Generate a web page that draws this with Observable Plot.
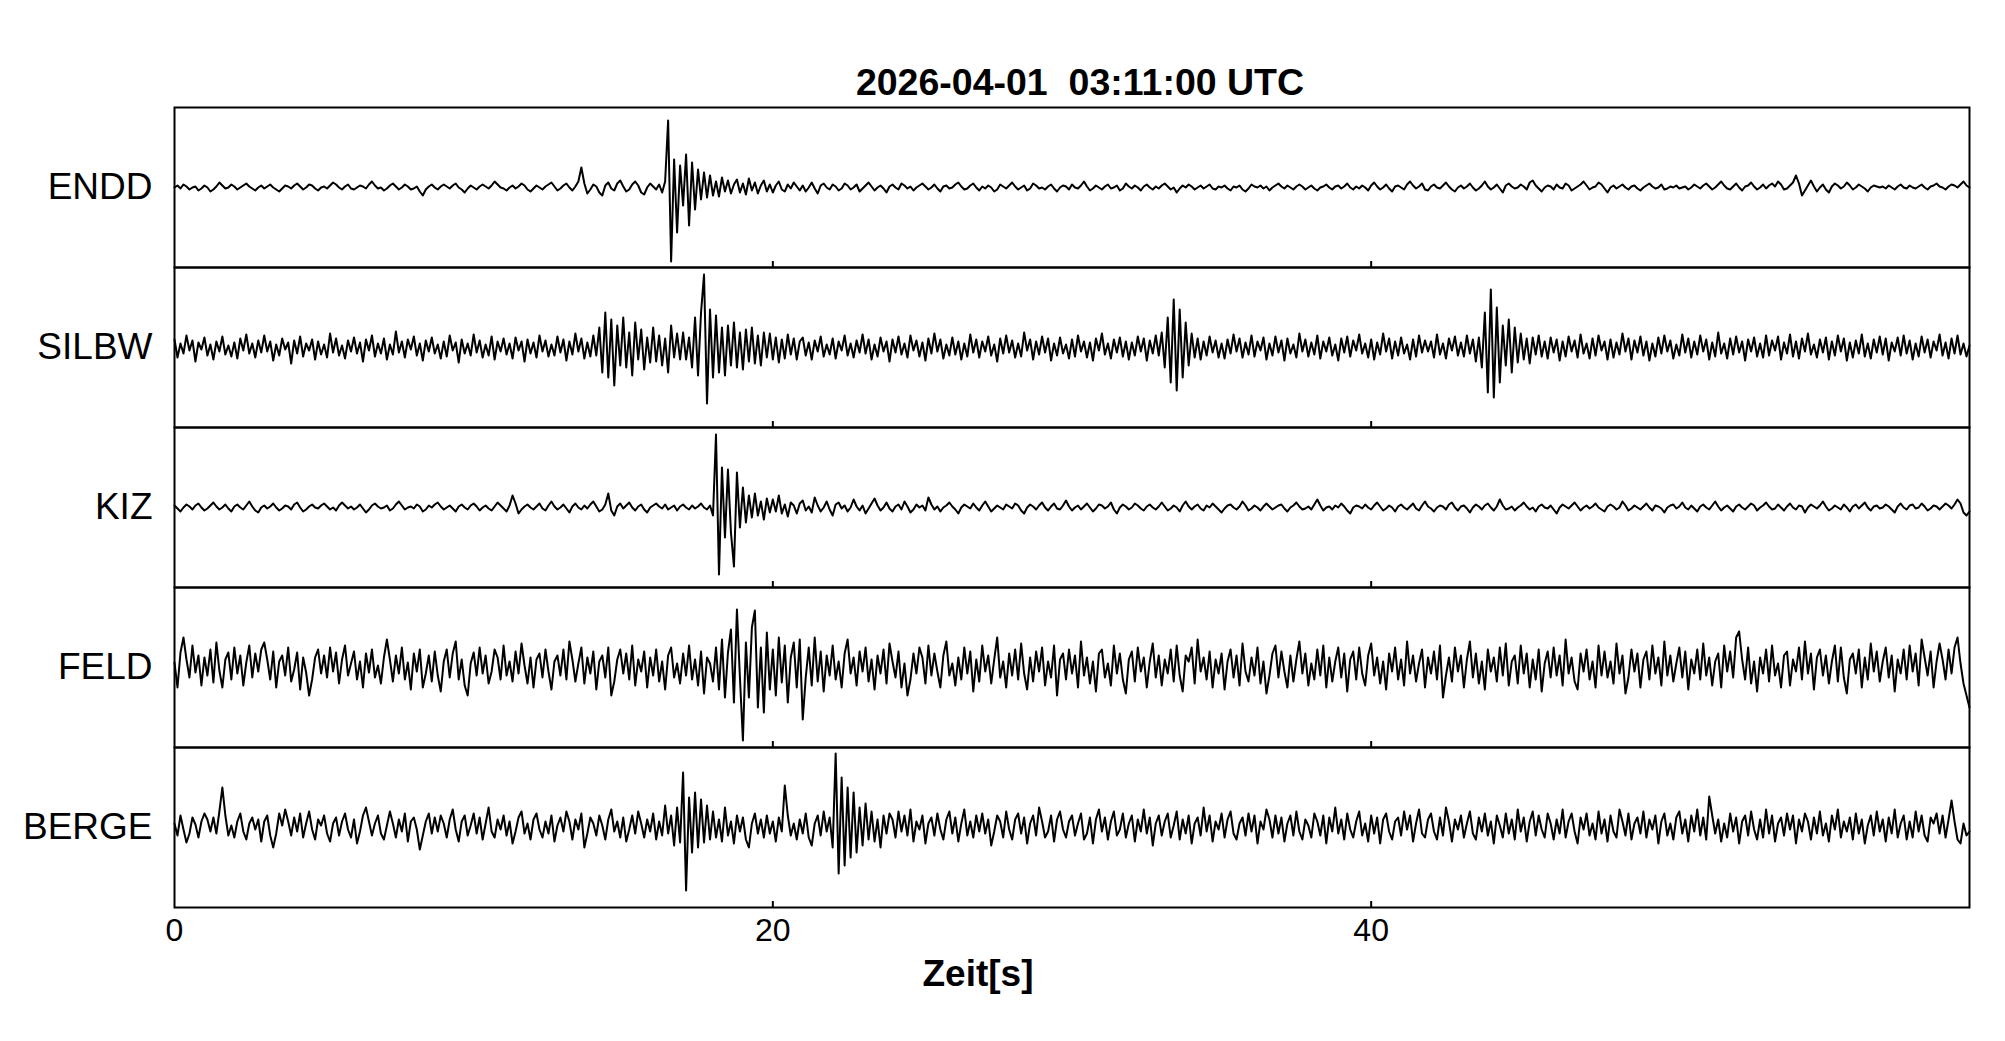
<!DOCTYPE html>
<html>
<head>
<meta charset="utf-8">
<script src="https://cdn.jsdelivr.net/npm/d3@7"></script>
<script src="https://cdn.jsdelivr.net/npm/@observablehq/plot@0.6"></script>
<style>
  html, body { margin: 0; padding: 0; background: #fff; }
  #wrap { position: relative; width: 2005px; height: 1041px; overflow: hidden; font-family: "Liberation Sans", Arial, Helvetica, sans-serif; }
  #title { position: absolute; left: 1080px; top: 64px; transform: translateX(-50%); font-size: 37.5px; line-height: 37.5px; font-weight: bold; white-space: pre; color: #000; }
  #xlabel { position: absolute; left: 978px; top: 955px; transform: translateX(-50%); font-size: 37px; line-height: 37px; font-weight: bold; white-space: pre; color: #000; }
  #chart { position: absolute; left: 0; top: 0; }
</style>
</head>
<body>
<div id="wrap">
  <div id="chart"></div>
  <div id="title"></div>
  <div id="xlabel"></div>
</div>
<script>
// ---- chart text ----
const titleText = "2026-04-01  03:11:00 UTC";
const xLabel = "Zeit[s]";
const stations = ["ENDD", "SILBW", "KIZ", "FELD", "BERGE"];
const xTicks = [0, 20, 40];
const innerTicks = [20, 40];
const sampleInterval = 0.1; // seconds between samples
const timeDomain = [0, 60];

// ---- traces (amplitude, sampled every 0.1 s, one row per second) ----
const endd = [
  0,2,-1,3,1,-2,0,1,-3,-1,
  2,0,-4,-2,1,5,2,-1,0,3,
  1,-2,0,2,4,1,-1,-3,0,2,
  -1,1,3,0,-2,-4,-1,2,1,-1,
  2,4,1,-2,0,3,2,-1,-3,0,
  1,-1,2,5,3,0,-2,1,3,-1,
  -2,0,2,1,-1,3,6,2,-1,0,
  -3,-1,2,4,1,-2,0,3,1,-2,
  -1,1,-4,-8,-2,1,3,0,-2,1,
  3,1,-1,2,4,0,-2,-5,-1,2,
  0,-2,1,3,1,-1,2,6,3,0,
  -1,-3,0,2,-1,1,4,2,-2,-4,
  -1,2,0,-2,1,3,5,1,-3,-1,
  2,4,0,-3,1,6,20,4,-6,-2,
  3,1,-5,-8,2,5,-1,-3,4,7,
  1,-4,-2,3,6,2,-5,-7,0,4,
  1,-2,3,-5,6,67,-74,28,-45,22,
  -18,33,-38,25,-22,18,-12,15,-10,12,
  -8,6,-9,10,-4,7,-6,3,8,-5,
  4,-7,9,-3,5,-6,2,7,-4,3,
  -5,2,6,-2,-4,3,-1,5,1,-3,
  2,-4,0,5,-1,-6,2,4,0,-2,
  3,1,-3,-1,4,2,-2,0,3,-4,
  -1,2,5,1,-3,0,2,-1,-5,1,
  3,0,-2,4,2,-1,1,-3,0,2,
  4,1,-2,0,3,-1,-4,1,2,-1,
  0,3,5,1,-2,-1,2,4,0,-3,
  1,-1,2,0,-4,-2,3,1,-1,2,
  5,1,-2,0,2,-3,-1,4,2,-1,
  0,-2,1,3,-1,-4,0,2,1,-2,
  3,0,-1,2,6,1,-3,-1,2,0,
  -2,1,3,-1,0,2,-3,-1,4,1,
  -1,2,0,-3,1,3,0,-2,1,-1,
  2,4,1,-2,0,-5,-1,2,0,3,
  1,-2,0,2,-1,1,3,-1,-2,1,
  0,2,-1,-3,1,0,2,-2,-4,-1,
  3,1,0,2,-1,1,-3,0,2,4,
  1,-1,2,0,-2,1,3,1,-2,0,
  2,-1,-3,0,1,3,0,-2,1,2,
  -1,1,4,0,-2,1,-1,2,0,-3,
  2,5,1,-2,0,3,-1,-4,1,2,
  0,-2,3,6,2,-1,1,4,-2,-3,
  1,3,0,-1,2,5,1,-2,-4,0,
  2,-1,1,4,0,-3,-1,2,6,1,
  -2,0,3,-1,-5,2,4,1,-1,0,
  3,1,-2,5,7,2,-1,-4,0,2,
  1,-2,3,0,-1,4,2,-3,-1,1,
  3,6,2,-2,0,1,5,3,-1,-5,
  0,2,-1,1,3,0,-2,1,2,-1,
  -3,0,2,4,1,-1,0,3,-2,-1,
  1,0,2,-1,0,1,-2,0,3,1,
  -1,2,4,1,-2,0,3,6,2,-1,
  -2,1,4,0,-3,1,2,5,1,-2,
  0,3,-1,2,4,1,6,3,-2,-1,
  2,5,12,4,-8,-3,2,7,1,-4,
  0,3,-2,-5,1,4,2,-1,1,5,
  2,-2,0,3,1,-1,-4,0,2,1,
  0,1,-1,2,0,-2,1,3,0,-1,
  2,0,-1,1,3,0,-2,1,2,4,
  1,0,-2,1,3,2,0,3,6,2,
  0
];

const silbw = [
  8,-10,4,-6,12,-3,7,-14,5,-2,
  10,-8,3,-12,6,-4,11,-7,2,-9,
  5,-11,9,-3,13,-6,4,-10,7,-5,
  12,-4,6,-13,3,-8,9,-2,5,-16,
  7,-6,11,-9,4,-3,8,-12,6,-7,
  3,-10,14,-5,9,-8,2,-11,7,-4,
  10,-6,5,-14,8,-3,12,-9,4,-6,
  9,-12,3,-7,16,-5,6,-10,8,-2,
  11,-8,4,-13,7,-4,10,-6,3,-11,
  6,-9,12,-3,5,-15,8,-6,4,-8,
  13,-5,7,-10,3,-8,11,-12,6,-4,
  9,-7,4,-11,10,-3,6,-14,8,-6,
  5,-10,12,-4,7,-9,3,-8,11,-5,
  8,-13,6,-7,14,-4,9,-11,5,-9,
  12,-8,20,-25,35,-30,28,-38,22,-18,
  30,-20,15,-28,25,-12,18,-22,10,-15,
  20,-14,12,-18,9,-25,22,-10,14,-12,
  15,-12,10,-20,30,-28,35,73,-56,38,
  -30,32,-25,20,-28,22,-18,25,-20,15,
  -22,18,-14,20,-16,12,-18,15,-10,14,
  -12,10,-15,8,-11,13,-7,9,-12,6,
  10,-8,5,-12,7,-4,11,-9,3,-7,
  9,-11,6,-3,12,-8,4,-10,7,-5,
  13,-6,8,-12,3,-9,10,-4,6,-14,
  8,-5,11,-7,4,-10,12,-3,7,-9,
  5,-13,9,-6,14,-4,8,-11,3,-8,
  10,-7,6,-12,4,-9,13,-5,8,-10,
  6,-4,11,-8,3,-14,9,-6,12,-5,
  7,-10,4,-9,15,-3,8,-12,6,-7,
  11,-5,9,-13,4,-8,10,-6,3,-11,
  8,-9,12,-4,6,-10,5,-13,9,-3,
  14,-7,4,-11,8,-5,10,-9,6,-12,
  5,-8,11,-4,9,-13,7,-6,12,-8,
  15,-20,30,-35,48,-43,38,-30,25,-18,
  14,-10,9,-12,6,-8,11,-5,7,-10,
  4,-11,8,-6,13,-4,9,-10,5,-7,
  12,-9,6,-3,10,-12,4,-8,11,-5,
  7,-13,9,-6,3,-10,14,-4,8,-9,
  5,-7,12,-11,6,-4,10,-8,3,-13,
  9,-5,11,-9,7,-3,13,-6,4,-10,
  8,-12,5,-7,14,-4,9,-11,6,-8,
  10,-6,3,-12,8,-9,12,-5,7,-4,
  6,-10,13,-7,4,-11,9,-3,11,-8,
  5,-9,12,-6,8,-14,10,-20,35,-45,
  58,-50,40,-35,22,-18,28,-25,20,-15,
  14,-12,9,-16,10,-7,12,-9,6,-11,
  10,-5,8,-13,6,-9,11,-4,7,-10,
  13,-6,4,-11,9,-8,12,-3,6,-12,
  8,-10,5,-7,14,-4,9,-12,7,-5,
  11,-8,6,-13,4,-9,10,-6,12,-4,
  7,-11,3,-8,13,-5,9,-10,6,-7,
  12,-4,8,-12,5,-9,15,-6,4,-11,
  9,-7,11,-5,6,-13,8,-4,10,-9,
  4,-10,12,-8,7,-3,11,-12,5,-6,
  13,-9,6,-11,9,-4,14,-7,3,-10,
  8,-5,10,-12,6,-8,12,-4,9,-13,
  5,-10,7,-6,13,-9,4,-11,8,-5,
  11,-7,9,-13,5,-4,10,-8,12,-6,
  7,-12,4,-9,11,-5,8,-10,6,-3,
  13,-8,5,-11,9,-6,12,-7,4,-9,
  2
];

const kiz = [
  2,-1,-4,0,3,1,-2,2,4,0,
  -3,-1,2,5,1,-2,0,3,-1,-4,
  1,3,0,-2,2,6,1,-3,-5,0,
  2,-1,1,4,0,-3,-1,2,1,-2,
  3,5,0,-4,-2,1,3,0,-1,2,
  4,1,-2,0,-3,2,5,2,-1,1,
  -2,0,3,-1,-5,-2,2,4,1,-1,
  0,2,-3,-1,3,6,2,-2,0,1,
  -1,3,1,-4,-2,2,0,3,5,1,
  -2,0,2,-1,-4,1,3,0,-2,2,
  4,1,-3,0,2,-1,-3,1,5,2,
  -1,-4,2,12,4,-6,-2,1,3,0,
  -2,1,4,-1,-3,2,6,1,-2,0,
  3,-1,-5,1,4,0,-2,2,-1,3,
  6,1,-4,-2,3,14,-3,-8,1,4,
  -1,2,5,0,-3,1,3,-2,-5,0,
  2,4,1,-1,3,-2,0,2,-3,1,
  3,0,-2,2,-1,1,4,0,-2,2,
  -8,73,-67,40,-30,38,-25,-59,35,-20,
  20,-15,12,-10,14,-8,6,-12,9,-5,
  8,-4,12,-6,3,-9,5,2,-6,4,
  7,-3,1,-5,10,2,-4,0,6,-2,
  -8,3,5,-1,2,-4,0,8,1,-3,
  2,-6,-1,4,9,2,-3,0,5,-1,
  -4,1,3,-2,6,1,-5,-2,3,0,
  2,-3,10,3,-2,1,-4,0,2,5,
  1,-2,-6,0,3,1,-1,4,0,-3,
  2,6,1,-4,-1,2,0,-2,3,1,
  -1,4,2,-3,-6,0,3,1,-2,2,
  5,0,-3,1,4,-1,-2,2,7,1,
  -3,0,2,-2,1,4,0,-4,-1,3,
  2,-1,1,5,-2,-6,0,3,1,-2,
  0,4,2,-1,-3,1,3,0,-2,1,
  5,1,-3,-1,2,0,-4,2,6,1,
  -2,1,3,-1,-3,2,0,4,1,-2,
  -5,-1,2,3,0,-2,1,6,2,-3,
  -1,2,0,-3,1,4,1,-2,0,2,
  3,-1,-4,0,2,5,1,-2,-1,1,
  -2,3,8,2,-3,0,1,-2,2,0,
  4,1,-3,-6,0,2,1,-1,3,0,
  -2,2,5,1,-3,-1,2,0,-4,1,
  3,0,-2,1,4,-1,-3,2,6,1,
  -1,-4,0,2,1,-2,3,5,0,-3,
  1,2,-1,-5,0,3,1,-2,2,4,
  0,-3,1,8,2,-2,-1,1,-3,0,
  2,5,1,-2,0,-4,1,3,0,-1,
  2,-2,-6,0,3,1,-1,2,5,1,
  -3,0,2,-1,1,4,0,-2,-4,1,
  3,1,-2,0,6,2,-3,-1,2,0,
  -2,1,4,0,-3,2,1,-1,-5,0,
  2,3,-1,1,5,0,-2,2,-1,-4,
  1,3,0,-2,2,6,1,-3,0,2,
  -1,-4,1,3,0,-2,1,4,2,-3,
  0,2,5,1,-2,-1,3,0,-3,1,
  4,0,-2,2,1,-5,0,3,1,-1,
  2,6,1,-3,-1,2,0,-2,3,0,
  -4,1,3,-1,2,5,0,-3,1,2,
  -1,0,3,1,-2,-5,1,4,0,-2,
  2,3,-1,0,4,1,-3,-1,2,1,
  -2,1,4,2,-1,3,8,4,-5,-8,
  -4
];

const feld = [
  5,-20,15,30,8,-10,22,-5,12,-18,
  10,-8,18,-15,25,-3,-20,8,15,-12,
  20,-6,12,-18,5,22,-10,14,-4,18,
  25,8,-12,16,-20,6,12,-8,20,-14,
  -2,15,-22,10,-5,-28,-12,10,18,-6,
  12,-10,20,-4,15,-16,8,22,-8,4,
  16,-12,6,-20,14,-5,18,-10,2,-16,
  10,28,8,-14,12,-6,20,-12,5,-22,
  14,-4,18,-20,-6,12,-14,16,-8,-24,
  6,18,-10,14,26,-12,8,-18,-28,4,
  15,-8,20,-6,12,-16,-4,18,10,-12,
  22,-8,6,-14,16,-6,24,2,-16,10,
  -20,8,14,-10,18,-4,-22,6,12,-8,
  18,-12,26,8,-14,4,20,-16,10,-6,
  16,-22,6,12,-10,20,-28,-14,8,18,
  -6,14,-12,22,-18,8,-4,16,-20,10,
  -8,18,-14,6,-22,12,20,-10,4,-16,
  14,-8,22,-12,8,-18,16,-26,10,4,
  -14,20,-22,28,-30,15,38,-35,58,-10,
  -73,25,-30,40,57,-40,20,-45,35,-22,
  18,-28,30,-15,22,-35,10,25,-20,28,
  -52,-10,20,-18,30,-14,16,-24,12,-8,
  22,-12,6,-20,14,28,-6,10,-18,16,
  -4,20,-14,8,-22,12,-6,18,-16,24,
  6,-10,16,-20,4,-28,-12,14,-6,20,
  10,-16,22,-8,14,-4,-20,12,26,-8,
  4,-18,10,-12,20,-6,16,-24,8,-14,
  22,-4,12,-16,8,30,-10,6,-20,14,
  -8,18,-12,24,-6,-22,10,-14,16,-4,
  20,-18,6,-10,22,-28,8,14,-12,18,
  -6,12,-20,26,-8,10,-16,6,-24,14,
  18,-10,4,-18,22,-6,14,-12,-26,8,
  16,-14,20,-4,10,-20,6,24,-10,12,
  -18,8,-6,18,-14,22,-8,-24,12,6,
  20,-16,28,-4,10,-12,16,-20,8,-6,
  14,-22,6,18,-10,12,-18,24,-4,-14,
  10,-8,20,-16,6,-26,-8,14,22,-10,
  16,-4,-20,12,-14,8,26,-6,14,-18,
  4,-12,18,-8,22,-20,10,-14,6,20,
  -10,14,-24,8,16,-12,20,-6,-18,12,
  24,-8,10,-16,6,-22,14,-4,20,-12,
  8,-18,26,-6,12,-14,4,18,-20,10,
  -6,16,-12,22,-30,-8,10,-14,20,-4,
  12,-20,8,26,-10,14,-16,6,-22,18,
  -4,10,-14,20,-8,24,-18,6,12,-16,
  22,-6,14,-20,8,-12,18,-24,4,16,
  -10,20,-8,12,-18,28,-6,10,-14,-22,
  14,-4,18,-12,6,-20,22,-8,16,-10,
  6,-16,24,-6,12,-26,-10,18,-4,14,
  -20,8,16,-12,22,-6,10,-18,26,-8,
  12,-14,4,20,-10,16,-22,8,-6,18,
  -12,24,-8,10,-18,6,14,-20,22,-4,
  16,-10,30,36,8,-12,20,-16,6,-24,
  10,-6,18,-14,22,-8,4,-20,12,16,
  -18,8,-4,20,-12,26,-6,14,-22,10,
  18,-8,12,-16,6,22,-14,20,-10,-26,
  8,14,-6,18,-20,10,-12,24,-4,16,
  -14,6,20,-10,12,-24,8,-6,18,-12,
  22,-4,14,-18,28,10,-8,16,-20,6,
  24,8,-12,18,-6,20,30,4,-16,-28,
  -40
];

const berge = [
  4,-8,12,-2,-15,-6,10,3,-10,6,
  14,8,-4,10,-6,16,40,12,-8,2,
  -10,6,14,-4,-12,4,10,-2,8,-14,
  6,12,-8,-20,-6,14,2,18,6,-8,
  10,-4,14,-10,4,16,-2,-12,8,2,
  12,-6,-14,4,10,-8,6,14,-2,-10,
  8,-16,-4,12,20,6,-8,4,12,-6,
  -12,2,16,4,-10,8,-4,14,-14,6,
  10,-2,-22,-8,6,14,-6,10,-4,12,
  4,-10,8,18,-2,-14,6,12,-8,2,
  14,-6,10,-12,4,20,-4,-10,8,-2,
  12,-8,6,-16,-4,10,16,-6,4,-12,
  8,14,-2,-10,6,-6,12,-14,2,10,
  -4,16,6,-12,8,-2,14,-20,-6,10,
  4,-8,12,2,-12,8,18,-4,6,-10,
  10,-14,-2,12,-6,16,4,-10,8,-4,
  14,-12,6,-8,22,-6,12,-18,20,-15,
  55,-63,30,-25,35,-20,28,-15,22,-12,
  16,-10,8,-14,20,-8,6,-16,12,-4,
  10,-12,-20,4,14,-6,8,-10,12,-6,
  6,-14,10,-4,42,12,-8,4,-12,8,
  -6,14,-10,-18,4,12,-8,16,-4,10,
  -20,74,-46,50,-38,40,-30,35,-25,20,
  -18,24,-12,16,-14,8,-20,12,-6,14,
  8,-10,16,-4,12,-8,18,-14,6,-2,
  12,-16,4,10,-8,14,-2,-12,8,16,
  -6,10,-14,4,18,-8,6,-10,12,-4,
  14,-6,8,-18,-4,12,6,-10,16,-2,
  -12,8,14,-6,10,-16,4,12,-8,20,
  6,-10,-4,12,-14,8,16,-2,-10,6,
  12,-8,4,14,-12,-6,10,-16,8,18,
  -4,10,-12,6,16,-8,-2,14,-10,4,
  12,-14,8,-4,18,-6,10,-18,4,12,
  -8,6,14,-10,2,16,-12,8,-6,12,
  -16,4,10,-8,20,-4,12,-14,6,-2,
  14,-10,8,16,-6,-12,4,10,-8,14,
  -4,12,-16,6,-2,18,8,-10,12,-6,
  10,-14,4,12,-8,16,-4,-12,8,2,
  -10,14,6,-8,12,-16,10,-4,20,-6,
  8,-12,14,-2,-10,6,16,-8,4,-14,
  12,-6,10,-16,8,14,-4,-12,6,10,
  -8,16,-2,12,-14,4,18,-6,-10,8,
  14,-4,-12,10,-8,20,6,-14,8,-2,
  12,-10,4,16,-6,-12,10,-4,14,-8,
  6,-16,12,2,-10,14,-6,8,-12,18,
  -4,10,-14,6,16,-8,12,-2,-10,14,
  4,-12,8,-6,18,-10,6,14,-4,-16,
  10,-2,14,-8,4,-12,16,-6,8,-14,
  12,-4,-10,18,6,-8,14,-12,4,10,
  -6,16,-10,8,-2,12,-16,6,14,-8,
  4,-12,10,16,-6,8,-14,12,-4,18,
  -8,10,-12,31,12,-6,8,-14,4,-10,
  14,-4,10,-16,6,12,-8,16,-2,-12,
  8,-10,18,-6,12,-14,4,10,-8,14,
  -2,12,-16,8,-4,14,6,-12,10,-6,
  16,-8,4,-14,12,-2,18,-10,6,-4,
  10,-12,14,-6,8,-16,2,12,-8,16,
  -4,8,-14,10,-6,18,-10,4,12,-12,
  6,-10,16,-4,12,-8,-14,10,4,14,
  -6,12,-10,8,27,6,-12,-16,4,-8,
  -4
];

// ---- build the long table the library needs ----
const series = {ENDD: endd, SILBW: silbw, KIZ: kiz, FELD: feld, BERGE: berge};
const rows = [];
for (const s of stations) {
  series[s].forEach((v, i) => rows.push({station: s, t: i * sampleInterval, v}));
}

const chart = Plot.plot({
  width: 2005,
  height: 1000,
  marginLeft: 174,
  marginRight: 36,
  marginTop: 107,
  marginBottom: 93,
  style: {fontFamily: "'Liberation Sans', Arial, Helvetica, sans-serif", color: "#000", background: "#fff"},
  x: {domain: timeDomain},
  y: {domain: [-80, 80], axis: null},
  fy: {domain: stations, padding: 0},
  marks: [
    Plot.lineY(rows, {x: "t", y: "v", fy: "station", stroke: "#000", strokeWidth: 2, curve: "linear"}),
    Plot.ruleX(innerTicks, {y1: -80, y2: -74, stroke: "#000", strokeWidth: 2}),
    Plot.frame({stroke: "#000", strokeWidth: 2}),
    Plot.axisFy({anchor: "left", tickSize: 0, tickPadding: 22, fontSize: 37, label: null}),
    Plot.axisX({ticks: xTicks, tickSize: 0, tickPadding: 11, fontSize: 32, label: null, tickFormat: d => String(d)})
  ]
});
document.getElementById("chart").appendChild(chart);
document.getElementById("title").textContent = titleText;
document.getElementById("xlabel").textContent = xLabel;
</script>
</body>
</html>
